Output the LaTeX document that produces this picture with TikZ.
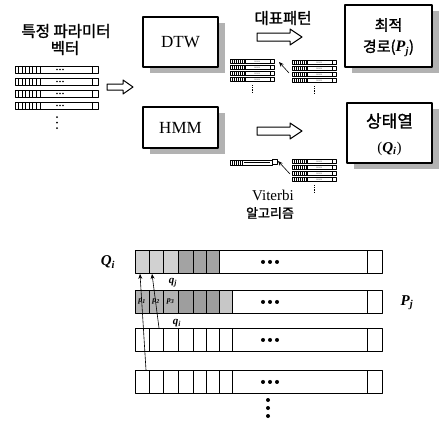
\documentclass[tikz,border=0pt]{standalone}
\usepackage{fontspec}
\setmainfont{Liberation Serif}
\newfontfamily\kr{Noto Sans CJK KR}[FakeBold=1.5]
\usetikzlibrary{arrows.meta,calc,shadows}
\newcommand{\bi}[1]{{\rmfamily\textbf{\textit{#1}}}}
\begin{document}
\begin{tikzpicture}[x=1pt,y=-1pt,line join=round,
  box/.style={draw,line width=1.1pt,fill=white,inner sep=0pt,
    drop shadow={shadow xshift=7pt,shadow yshift=-6pt,fill=black!30,opacity=1}},
  harr/.style={draw,line width=1pt,fill=white},
  krtext/.style={font=\kr\fontsize{15.5}{18}\selectfont,inner sep=1pt},
  latin/.style={font=\fontsize{17}{20}\selectfont,inner sep=1pt},
  lbl/.style={font=\fontsize{15}{15}\selectfont,inner sep=1pt},
  slbl/.style={font=\fontsize{11}{11}\selectfont,inner sep=1pt},
  thinarrow/.style={-{Stealth[length=5pt,width=4pt]},line width=0.6pt},
  rowbox/.style={draw,line width=0.9pt,minimum width=247pt,minimum height=23pt,inner sep=0pt,anchor=north west},
  pics/harrow/.style args={#1/#2/#3/#4}{code={
    \draw[harr] (0,-#2) -- ({#1-#4},-#2) -- ({#1-#4},-#3) -- (#1,0) -- ({#1-#4},#3) -- ({#1-#4},#2) -- (0,#2) -- cycle;}},
  pics/ministack/.style={code={
    \foreach \r in {0,1,2,3}{
      \pgfmathsetmacro\yy{\r*6}
      \draw[line width=0.5pt] (0,\yy) rectangle (44,\yy+4.5);
      \foreach \k in {2,4,...,14} \draw[line width=0.6pt] (\k,\yy) -- (\k,\yy+4.5);
      \draw[line width=0.9pt] (15,\yy) -- (15,\yy+4.5);
      \fill (25,\yy+2.2) circle (0.5) (27,\yy+2.2) circle (0.5) (29,\yy+2.2) circle (0.5);
      \draw[line width=0.6pt] (40,\yy) -- (40,\yy+4.5);
    }
    \draw[line width=0.8pt,dash pattern=on 1.2pt off 1pt] (22,26) -- (22,33);}}
]
\useasboundingbox (0,0) rectangle (439,424);

% --- title texts
\node[krtext] (t1) at (66,31) {특정 파라미터};
\node[krtext] (t2) at (65,48) {벡터};

% --- left stack of feature vectors
\foreach \y in {66,78,90,102}{
  \draw[line width=0.7pt] (15,\y) rectangle (98,\y+7);
  \foreach \k in {18.5,22,25.5,29,32.5,36} \draw[line width=0.8pt] (\k,\y) -- (\k,\y+7);
  \draw[line width=0.8pt] (40,\y) -- (40,\y+7);
  \fill (57,\y+3.5) circle (0.9) (60,\y+3.5) circle (0.9) (63,\y+3.5) circle (0.9);
  \draw[line width=0.7pt] (92,\y) -- (92,\y+7);
}
\fill (57,117) circle (1) (57,122.5) circle (1) (57,128) circle (1);

\pic at (107,87) {harrow=26/3/7/10};

% --- main boxes
\node[box,minimum width=75pt,minimum height=50pt] (dtw) at (180.5,42) {};
\node[latin] (dtwt) at (dtw.center) {DTW};
\node[box,minimum width=75pt,minimum height=41pt] (hmm) at (180.5,127.5) {};
\node[latin] (hmmt) at (hmm.center) {HMM};
\node[box,minimum width=87pt,minimum height=62pt] (opt) at (388.5,36) {};
\node[krtext,font=\kr\fontsize{15}{18}\selectfont] (opt1) at (388.5,25) {최적};
\node[krtext,font=\kr\fontsize{15}{18}\selectfont] (opt2) at (388.5,48) {경로({\fontsize{16}{18}\selectfont\bi{P}}\textsubscript{\bi{j}})};
\node[box,minimum width=85pt,minimum height=60pt] (st) at (389.5,133) {};
\node[krtext,font=\kr\fontsize{17}{20}\selectfont] (st1) at (389.5,121) {상태열};
\node[font=\fontsize{15}{18}\selectfont,inner sep=1pt] (st2) at (389.5,149) {(\bi{Q}\textsubscript{\bi{i}})};

% --- DTW branch
\node[krtext] (rep) at (283,18) {대표패턴};
\pic at (257,37) {harrow=45/4/8/12};
\coordinate (s1) at (230,59);
\coordinate (s2) at (292,60);
\pic at (s1) {ministack};
\pic at (s2) {ministack};
\draw[thinarrow] ($(s2)+(-3,13)$) -- ($(s1)+(49,3)$);

% --- HMM branch
\pic at (257,131) {harrow=45/4/8/12};
\coordinate (sb) at (230,160);
\draw[line width=0.6pt] (sb) rectangle ($(sb)+(42,5)$);
\foreach \k in {2,4,...,12} \draw[line width=0.6pt] ($(sb)+(\k,0)$) -- ($(sb)+(\k,5)$);
\draw[line width=0.5pt] ($(sb)+(14,2.5)$) -- ($(sb)+(40,2.5)$);
\draw[line width=0.7pt] ($(sb)+(42,-1)$) rectangle ($(sb)+(47,4)$);
\coordinate (s3) at (292,159);
\pic at (s3) {ministack};
\draw[thinarrow] ($(s3)+(-2,15)$) -- ($(sb)+(48,1)$);
\node[font=\fontsize{15}{18}\selectfont,inner sep=1pt] (vit) at (273,195) {Viterbi};
\node[krtext,font=\kr\fontsize{13}{15}\selectfont] (alg) at (270,213) {알고리즘};

% --- bottom rows
\fill[black!18] (135,250) rectangle (178,273);
\fill[black!36] (178,250) rectangle (219,273);
\fill[black!30] (135,290) rectangle (178,313);
\fill[black!38] (178,290) rectangle (219,313);
\fill[black!22] (219,290) rectangle (232,313);
\foreach \i/\yt in {1/250,2/290,3/328,4/370}
  \node[rowbox] (r\i) at (135,\yt) {};
\foreach \i in {1,2,3,4}{
  \foreach \x in {149,163,178,193,206,219}
    \draw[line width=0.8pt] (\x,0 |- r\i.north) -- (\x,0 |- r\i.south);
  \draw[line width=0.8pt] (367,0 |- r\i.north) -- (367,0 |- r\i.south);
  \fill (263,0 |- r\i.center) circle (2) (270,0 |- r\i.center) circle (2) (277,0 |- r\i.center) circle (2);
}
\foreach \i in {2,3,4}
  \draw[line width=0.8pt] (232,0 |- r\i.north) -- (232,0 |- r\i.south);
\node[font=\fontsize{8}{8}\selectfont,inner sep=0pt] (p1) at (142,301.5) {\bi{p}\textsubscript{\bi{1}}};
\node[font=\fontsize{8}{8}\selectfont,inner sep=0pt] (p2) at (156,301.5) {\bi{p}\textsubscript{\bi{2}}};
\node[font=\fontsize{8}{8}\selectfont,inner sep=0pt] (p3) at (170.5,301.5) {\bi{p}\textsubscript{\bi{3}}};

\node[lbl] (lq) at (108,262) {\bi{Q}\textsubscript{\bi{i}}};
\node[lbl] (lp) at (407,303) {\bi{P}\textsubscript{\bi{j}}};
\node[slbl] (qj) at (173,283) {\bi{q}\textsubscript{\bi{j}}};
\node[slbl] (qi) at (177,323) {\bi{q}\textsubscript{\bi{i}}};

\draw[thinarrow] ($(r4.north west)+(11,0)$) -- ($(r1.south west)+(5,0)$);
\draw[thinarrow] ($(r3.north west)+(24,0)$) -- ($(r1.south west)+(17,0)$);

\fill (268,400) circle (2) (268,408) circle (2) (268,416) circle (2);
\end{tikzpicture}
\end{document}
